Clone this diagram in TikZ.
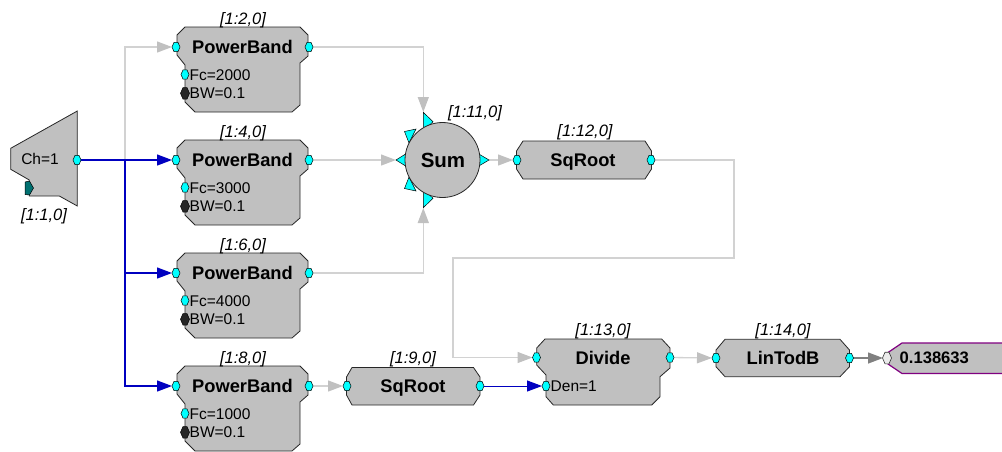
\documentclass[tikz,border=0pt]{standalone}
\usepackage{fontspec}
\setmainfont{Liberation Sans}
\usetikzlibrary{arrows.meta}
\definecolor{blkgray}{HTML}{C0C0C0}
\definecolor{lngray}{HTML}{D2D2D2}
\definecolor{argray}{HTML}{C0C0C0}
\definecolor{lnblue}{HTML}{0000C0}
\definecolor{dkgray}{HTML}{808080}
\definecolor{portcyan}{HTML}{00FFFF}
\definecolor{portteal}{HTML}{007070}
\definecolor{dispurple}{HTML}{800080}
\begin{document}
\begin{tikzpicture}[x=1pt,y=-1pt,
  blk/.style={fill=blkgray,draw=black!85,line width=0.8pt},
  prt/.style={fill=portcyan,draw=black,line width=0.5pt},
  prtdark/.style={fill=black!85,draw=black,line width=0.5pt},
  prtlight/.style={fill=black!8,draw=black!80,line width=0.6pt},
  tri/.style={fill=portcyan,draw=black,line width=0.5pt},
  conngray/.style={draw=lngray,line width=1.3pt,-{Triangle[length=15pt,width=11pt,color=argray]}},
  connblue/.style={draw=lnblue,line width=1.3pt,-{Triangle[length=15pt,width=11pt]}},
  conndark/.style={draw=dkgray,line width=1.3pt,-{Triangle[length=15pt,width=11pt]}},
  ttl/.style={font=\fontsize{18.3}{20}\selectfont\bfseries,anchor=base,yshift=-6.55pt,inner sep=0pt},
  sumt/.style={font=\fontsize{20.5}{22}\selectfont\bfseries,anchor=base,yshift=-7.35pt,inner sep=0pt},
  prm/.style={font=\fontsize{15.5}{17}\selectfont,anchor=base,yshift=-5.55pt,inner sep=0pt},
  lbl/.style={font=\fontsize{16.5}{18}\selectfont\itshape,anchor=base,yshift=-5.9pt,inner sep=0pt},
  val/.style={font=\fontsize{16.6}{18}\selectfont\bfseries,anchor=base west,yshift=-5.95pt,inner sep=0pt},
  port/.pic={\path[pic actions] (-4,0)--(-2,-4.6)--(2,-4.6)--(4,0)--(2,4.6)--(-2,4.6)--cycle;},
  bigport/.pic={\path[pic actions] (-4.5,0)--(-2,-5.8)--(2,-5.8)--(4.5,0)--(2,5.8)--(-2,5.8)--cycle;}
]
\useasboundingbox (0,0) rectangle (1002,451);
\clip (0,0) rectangle (1002,451);
% ---------- port coordinates ----------
\coordinate (srcout) at (77,160);
\coordinate (srcport) at (29,188);
\coordinate (jn) at (125,160);
\foreach \i/\yc in {1/47,2/160,3/273,4/386}{
  \coordinate (pb\i-in) at (176,\yc);
  \coordinate (pb\i-out) at (309,\yc);
  \coordinate (pb\i-fc) at (185,\yc+27.5);
  \coordinate (pb\i-bw) at (185,\yc+46.3);
}
\coordinate (sumc) at (442.5,160);
\coordinate (sumtop) at (423.3,112);
\coordinate (sumleft) at (396,160);
\coordinate (sumbot) at (423.3,208);
\coordinate (sumout) at (489,160);
\coordinate (sq1-in) at (517,160);
\coordinate (sq1-out) at (651,160);
\coordinate (sq2-in) at (347,386);
\coordinate (sq2-out) at (480,386);
\coordinate (div-in) at (536.5,357.5);
\coordinate (div-den) at (546,386);
\coordinate (div-out) at (670,357.5);
\coordinate (lin-in) at (716,358);
\coordinate (lin-out) at (849.5,358);
\coordinate (disp-in) at (887,358);
\coordinate (lp2) at (734,258);
\coordinate (lp3) at (453,258);
% ---------- connectors ----------
\draw[conngray,shorten >=4pt] (srcout) -- (jn) |- (pb1-in);
\draw[connblue,shorten >=4pt] (srcout) -- (pb2-in);
\draw[connblue,shorten >=4pt] (srcout) -- (jn) |- (pb3-in);
\draw[connblue,shorten >=4pt] (srcout) -- (jn) |- (pb4-in);
\draw[conngray] (pb1-out) -| (sumtop);
\draw[conngray] (pb2-out) -- (sumleft);
\draw[conngray] (pb3-out) -| (sumbot);
\draw[conngray,shorten >=4pt] (sumout) -- (sq1-in);
\draw[conngray,shorten >=4pt] (sq1-out) -| (lp2) -- (lp3) |- (div-in);
\draw[conngray,shorten >=4pt] (pb4-out) -- (sq2-in);
\draw[connblue,line width=1pt,shorten >=4pt] (sq2-out) -- (div-den);
\draw[conngray,shorten >=4pt] (div-out) -- (lin-in);
\draw[conndark,shorten >=4pt] (lin-out) -- (disp-in);
% ---------- source ----------
\path[blk] (10.7,148.3) -- (77.3,111) -- (77.3,206) -- (59.3,196) -- (29.3,196) -- (29.3,180) -- (10.7,169.3) -- cycle;
\path[fill=portteal,draw=black,line width=0.5pt] (25,182) -- (29.5,181) -- (33.5,188) -- (29.5,195) -- (25,194.5) -- cycle;
\pic[prt] at (srcout) {port};
\node[prm] (chtxt) at (40,159) {Ch=1};
\node[lbl] (l1) at (44,215) {[1:1,0]};
% ---------- PowerBand blocks ----------
\foreach \i/\yc/\lab/\fc in {1/47/2/2000,2/160/4/3000,3/273/6/4000,4/386/8/1000}{
  \path[blk] (185,\yc-20) -- (300,\yc-20) -- (308,\yc-12) -- (308,\yc+9) -- (300,\yc+16)
     -- (300,\yc+58) -- (292,\yc+65) -- (195,\yc+65) -- (185,\yc+55) -- (185,\yc+18)
     -- (177,\yc+8) -- (177,\yc-12) -- cycle;
  \pic[prt] at (pb\i-in) {port};
  \pic[prt] at (pb\i-out) {port};
  \pic[prt] at (pb\i-fc) {port};
  \pic[prtdark] at (pb\i-bw) {bigport};
  \node[ttl] (pbt\i) at (242.5,\yc) {PowerBand};
  \node[lbl] (pbl\i) at (243,\yc-28.5) {[1:\lab,0]};
  \node[prm,anchor=base west] (pbf\i) at (189.5,\yc+27.5) {Fc=\fc};
  \node[prm,anchor=base west] (pbb\i) at (189.5,\yc+46.3) {BW=0.1};
}
% ---------- Sum ----------
\path[tri] (423.3,112.3) -- (433,121.7) -- (423.3,131) -- cycle;
\path[tri] (404.5,131.5) -- (416,129) -- (409,143) -- cycle;
\path[tri] (408,152.5) -- (396,160) -- (408,167.5) -- cycle;
\path[tri] (404.5,188.5) -- (416,191) -- (409,177) -- cycle;
\path[tri] (423.3,207.7) -- (433,198.3) -- (423.3,189) -- cycle;
\path[tri] (478,153.5) -- (489,160) -- (478,166.5) -- cycle;
\path[blk] (sumc) circle[radius=37.5];
\node[sumt] (sumtxt) at (443,160.5) {Sum};
\node[lbl] (suml) at (475,112) {[1:11,0]};
% ---------- SqRoot 1:12 ----------
\path[blk] (523,141) -- (645,141) -- (651.5,151) -- (651.5,169) -- (645,179) -- (523,179) -- (516.5,169) -- (516.5,151) -- cycle;
\pic[prt] at (sq1-in) {port};
\pic[prt] at (sq1-out) {port};
\node[ttl] (sq1t) at (583,160) {SqRoot};
\node[lbl] (sq1l) at (585,131) {[1:12,0]};
% ---------- SqRoot 1:9 ----------
\path[blk] (352,367.5) -- (473.5,367.5) -- (480,377) -- (480,395) -- (473.5,405) -- (352,405) -- (346.5,395) -- (346.5,377) -- cycle;
\pic[prt] at (sq2-in) {port};
\pic[prt] at (sq2-out) {port};
\node[ttl] (sq2t) at (413,386) {SqRoot};
\node[lbl] (sq2l) at (413,358) {[1:9,0]};
% ---------- Divide ----------
\path[blk] (545,339) -- (661.7,339) -- (670,348) -- (670,368) -- (660,376.7) -- (660,396.7)
   -- (651.7,405) -- (553.3,405) -- (546,396.7) -- (546,375) -- (536.7,365) -- (536.7,348) -- cycle;
\pic[prt] at (div-in) {port};
\pic[prt] at (div-den) {port};
\pic[prt] at (div-out) {port};
\node[ttl] (divt) at (603,357.5) {Divide};
\node[lbl] (divl) at (603,330) {[1:13,0]};
\node[prm,anchor=base west] (dent) at (550.5,386) {Den=1};
% ---------- LinTodB ----------
\path[blk] (725,339.3) -- (840,339.3) -- (849.5,350) -- (849.5,366.7) -- (840,376.7) -- (725,376.7) -- (716,366.7) -- (716,350) -- cycle;
\pic[prt] at (lin-in) {port};
\pic[prt] at (lin-out) {port};
\node[ttl] (lint) at (783,358) {LinTodB};
\node[lbl] (linl) at (783,330) {[1:14,0]};
% ---------- display ----------
\path[fill=blkgray,draw=dispurple,line width=1.2pt] (888,352.5) -- (902,343) -- (1010,343) -- (1010,373.5) -- (902,373.5) -- (888,364) -- cycle;
\pic[prtlight] at (disp-in) {bigport};
\node[val] (dispt) at (899.5,358) {0.138633};
\end{tikzpicture}
\end{document}
